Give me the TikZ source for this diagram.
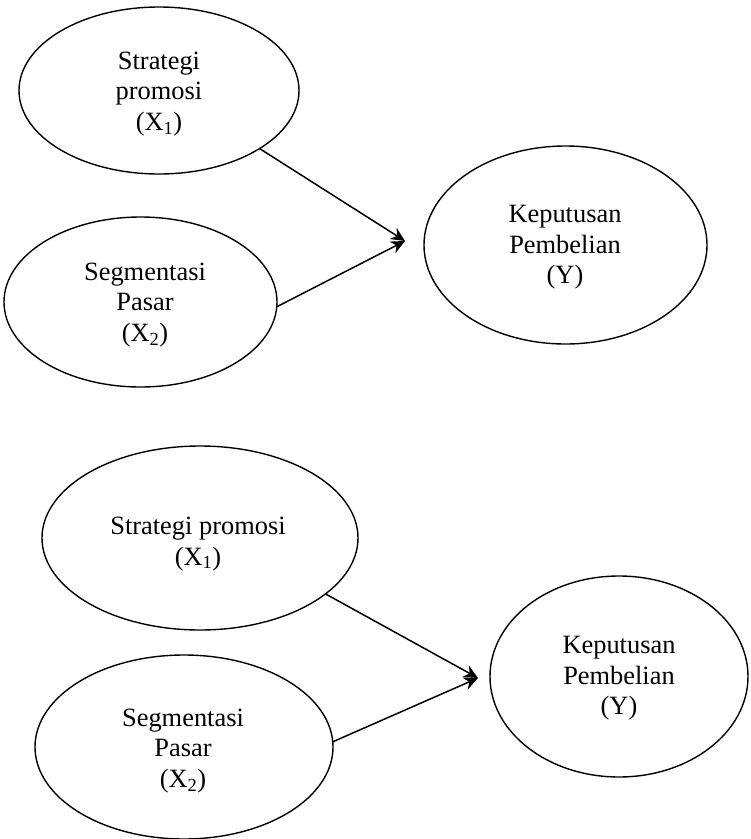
\documentclass[tikz,border=0pt]{standalone}
\usepackage{fontspec}
\setmainfont{Liberation Serif}
\usetikzlibrary{shapes.geometric,arrows.meta}
\tikzset{
  oval/.style={draw=black, line width=1.4pt, ellipse, inner sep=0pt, outer sep=0pt},
  txt/.style={align=center, inner sep=0pt, font=\fontsize{26.4}{30.5}\selectfont},
  link/.style={line width=1.5pt, -{Stealth[length=14pt,width=13pt,inset=4.5pt]}}
}
\begin{document}
\begin{tikzpicture}[x=1pt,y=-1pt]
\useasboundingbox (0,0) rectangle (751,839);
% top diagram
\node[oval, minimum width=280pt, minimum height=167pt] (e1) at (159,90.5) {};
\node[oval, minimum width=273pt, minimum height=170pt] (e2) at (140.5,302) {};
\node[oval, minimum width=283pt, minimum height=198pt] (e3) at (565.5,245) {};
\node[txt] (t1) at (159,94) {Strategi\\promosi\\(X\textsubscript{1})};
\node[txt] (t2) at (145,305) {Segmentasi\\Pasar\\(X\textsubscript{2})};
\node[txt] (t3) at (565,247.5) {Keputusan\\Pembelian\\(Y)};
\coordinate (p1) at (405,241);
\draw[link] (e1.-30) -- (p1);
\draw[link] (e2.-2) -- (p1);
% bottom diagram
\node[oval, minimum width=316pt, minimum height=184pt] (f1) at (200,538) {};
\node[oval, minimum width=298pt, minimum height=184pt] (f2) at (184,747) {};
\node[oval, minimum width=258pt, minimum height=201pt] (f3) at (619,676.5) {};
\node[txt] (u1) at (198,544) {Strategi promosi\\(X\textsubscript{1})};
\node[txt] (u2) at (183,751) {Segmentasi\\Pasar\\(X\textsubscript{2})};
\node[txt] (u3) at (619,678.5) {Keputusan\\Pembelian\\(Y)};
\coordinate (p2) at (478,678);
\draw[link] (f1.-24) -- (p2);
\draw[link] (f2.2) -- (p2);
\end{tikzpicture}
\end{document}
